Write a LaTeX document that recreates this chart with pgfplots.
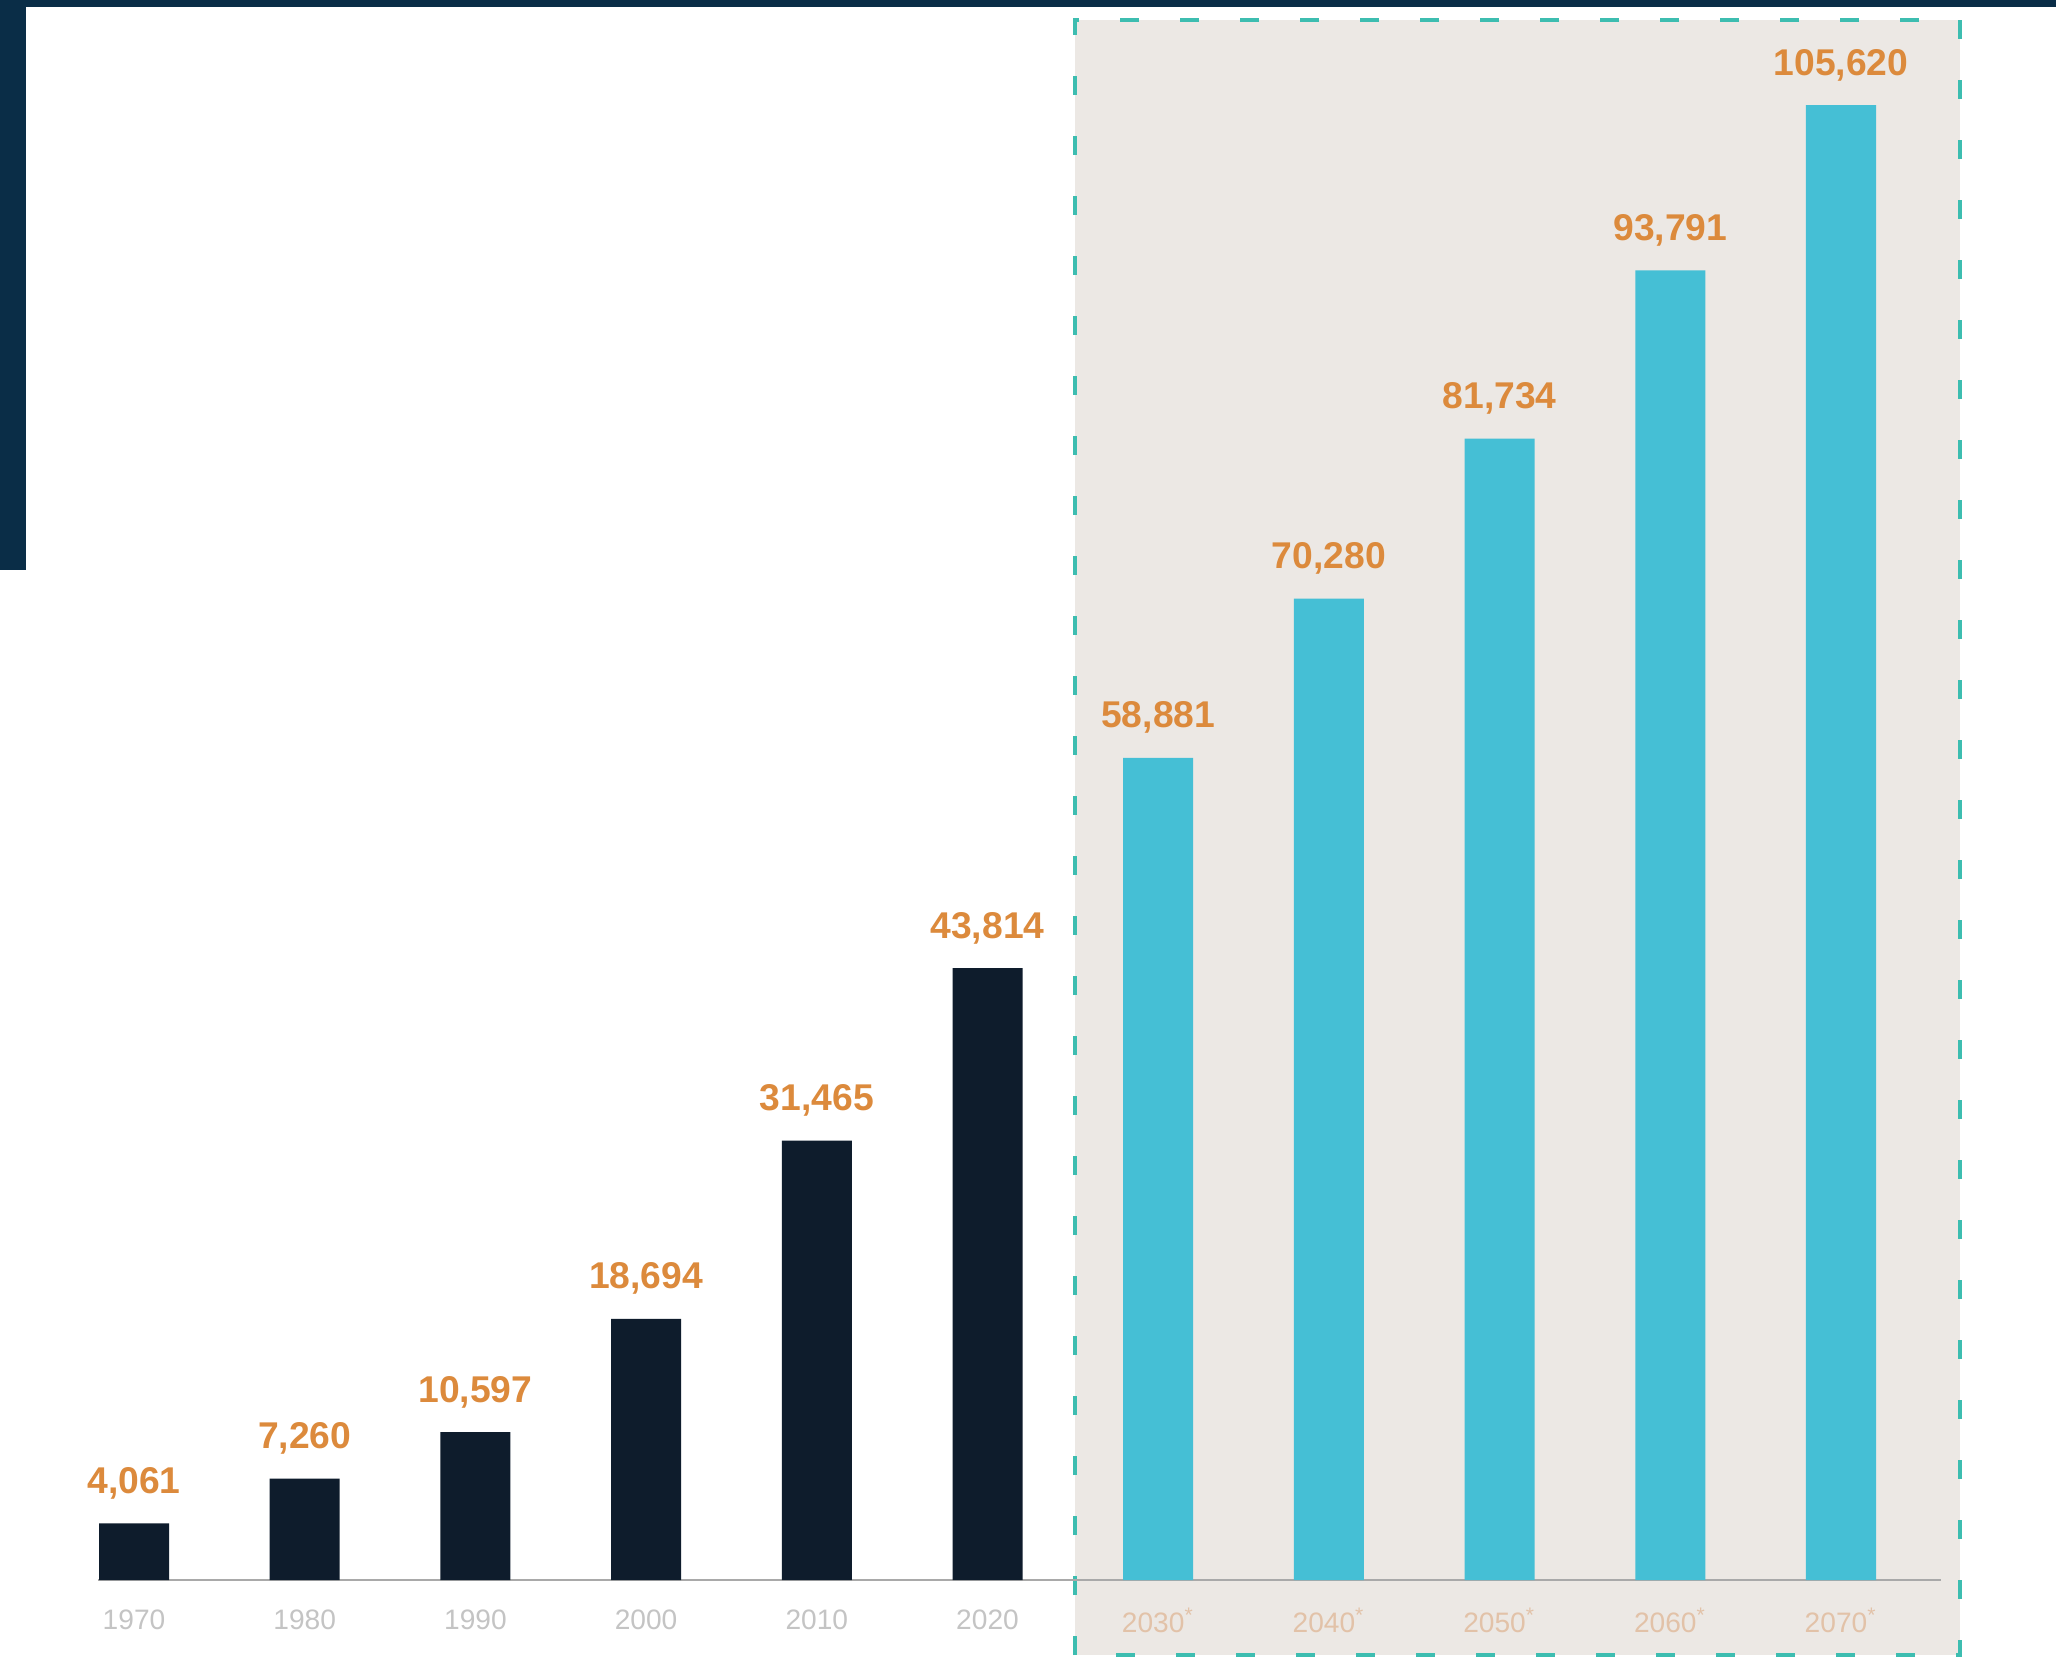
\documentclass[border=0pt]{standalone}
\usepackage{pgfplots}
\pgfplotsset{compat=1.18}
\usepackage{fontspec}
\setmainfont{Liberation Sans}
\definecolor{navy}{HTML}{0A2D47}
\definecolor{darkbar}{HTML}{0E1C2C}
\definecolor{tealbar}{HTML}{45BFD5}
\definecolor{lbl}{HTML}{DC8A3C}
\definecolor{shadebg}{HTML}{ECE8E4}
\definecolor{dashc}{HTML}{3DBDB0}
\definecolor{tickg}{HTML}{C4C4C4}
\definecolor{tickp}{HTML}{E2C2A8}
\definecolor{baseg}{HTML}{A9A9A9}
\begin{document}
\begin{tikzpicture}
\path[use as bounding box] (0,0) rectangle (20.56,16.59);
\fill[white] (0,0) rectangle (20.56,16.59);
\fill[navy] (0,16.52) rectangle (20.56,16.59);
\fill[navy] (0,10.89) rectangle (0.26,16.59);
\fill[shadebg] (10.75,0.04) rectangle (19.60,16.39);
\draw[dashc, line width=0.04cm, dash pattern=on 0.19cm off 0.41cm] (10.75,0.04) rectangle (19.60,16.39);
\begin{axis}[
  at={(0.98cm,0.79cm)}, anchor=south west,
  scale only axis, width=18.43cm, height=15.36cm,
  xmin=-0.211, xmax=10.586, ymin=0, ymax=110000,
  axis line style={draw=none},
  hide y axis,
  major tick length=0pt,
  xtick={0,...,10},
  xticklabels={
    \textcolor{tickg}{1970},\textcolor{tickg}{1980},\textcolor{tickg}{1990},
    \textcolor{tickg}{2000},\textcolor{tickg}{2010},\textcolor{tickg}{2020},
    \textcolor{tickp}{2030\textsuperscript{*}},\textcolor{tickp}{2040\textsuperscript{*}},
    \textcolor{tickp}{2050\textsuperscript{*}},\textcolor{tickp}{2060\textsuperscript{*}},
    \textcolor{tickp}{2070\textsuperscript{*}}},
  xticklabel style={font=\fontsize{8}{9}\selectfont, anchor=center, yshift=-0.40cm},
  /pgf/number format/fixed,
  /pgf/number format/precision=0,
  /pgf/number format/1000 sep={,},
  /pgf/number format/assume math mode=true,
  clip=false,
]
\draw[baseg, line width=0.02cm] (axis cs:-0.211,0) -- (axis cs:10.586,0);
\addplot[ybar, bar width=0.70cm, bar shift=0pt, fill=darkbar, draw=none,
  nodes near coords,
  nodes near coords style={font=\bfseries\fontsize{10.6}{12}\selectfont, text=lbl, anchor=base, yshift=0.30cm}]
  coordinates {(0,4061) (1,7260) (2,10597) (3,18694) (4,31465) (5,43814)};
\addplot[ybar, bar width=0.70cm, bar shift=0pt, fill=tealbar, draw=none,
  nodes near coords,
  nodes near coords style={font=\bfseries\fontsize{10.6}{12}\selectfont, text=lbl, anchor=base, yshift=0.30cm}]
  coordinates {(6,58881) (7,70280) (8,81734) (9,93791) (10,105620)};
\end{axis}
\end{tikzpicture}
\end{document}
